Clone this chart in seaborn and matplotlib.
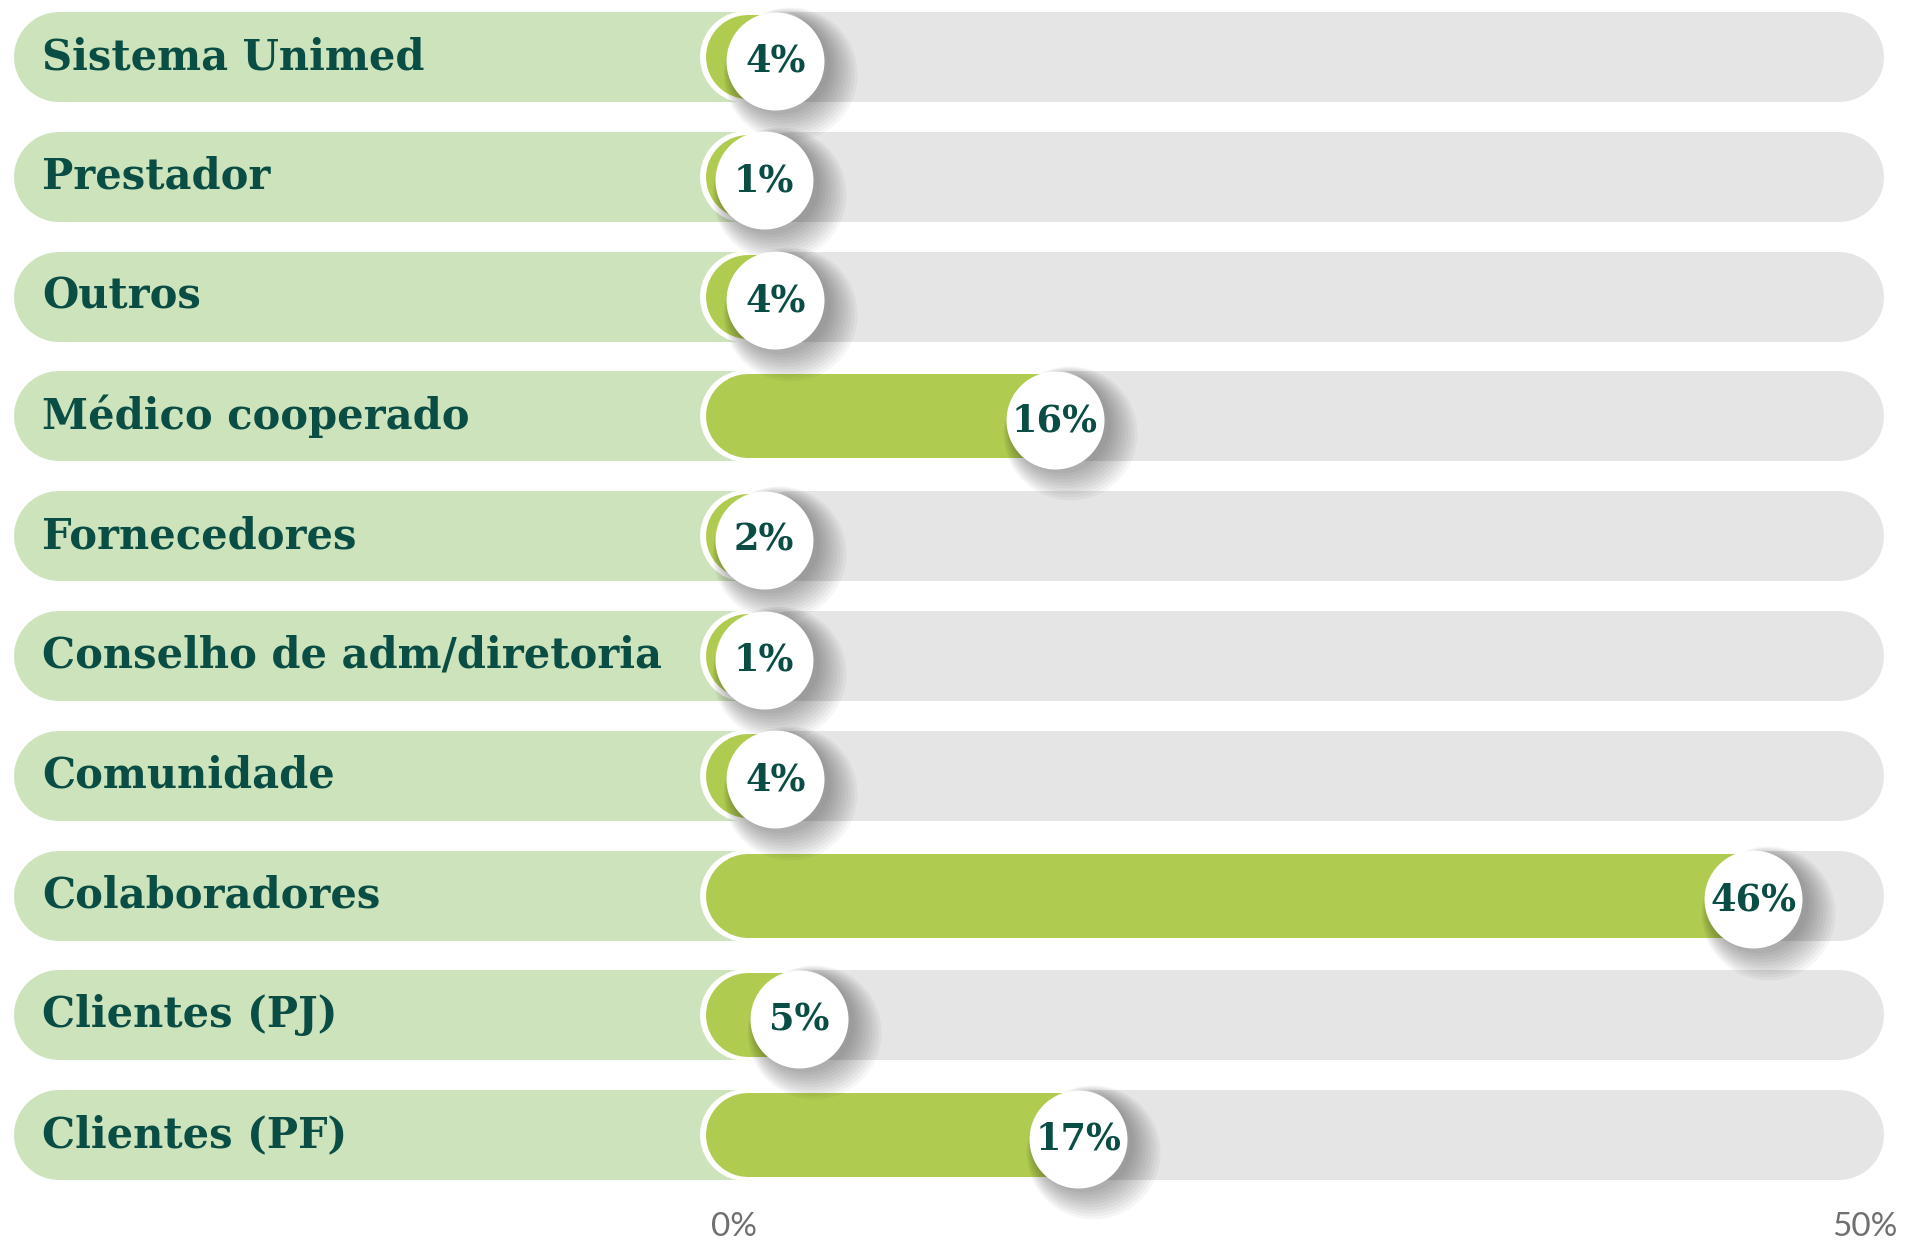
import matplotlib
matplotlib.use("Agg")
import matplotlib.pyplot as plt
import numpy as np
import pandas as pd
import seaborn as sns

# data
categories = ['Sistema Unimed', 'Prestador', 'Outros', 'Médico cooperado', 'Fornecedores',
              'Conselho de adm/diretoria', 'Comunidade', 'Colaboradores', 'Clientes (PJ)', 'Clientes (PF)']
values = [4, 1, 4, 16, 2, 1, 4, 46, 5, 17]
tick_values = [0, 50]
tick_labels = ['0%', '50%']

# colours
LABEL_BG = '#cde3bb'
TRACK = '#e5e5e5'
BAR = '#b0cc50'
TEXT = '#0a4d45'
TICK = '#6f6f6f'

sns.set_theme(style='white')
plt.rcParams['font.family'] = ['DejaVu Serif', 'DejaVu Sans']

# figure geometry (pixels at dpi 100)
W, H, DPI = 1905, 1244, 100
PX_X = 23.28      # pixels per percent
PX_Y = 119.8      # pixels per row
X0_PX = 701       # pixel position of 0%
Y0_PX = 57        # first row centre
PT = 72 / DPI     # points per pixel

fig = plt.figure(figsize=(W / DPI, H / DPI), dpi=DPI)
ax = fig.add_axes([0, 0, 1, 1])
ax.set_xlim(-X0_PX / PX_X, (W - X0_PX) / PX_X)
ax.set_ylim((H - Y0_PX) / PX_Y, -Y0_PX / PX_Y)
ax.axis('off')

bar_h = 90                     # track height in px
r = bar_h / 2 / PX_X           # cap radius in data units
left, right = -29.5, 50.8      # track extent in data units

df = pd.DataFrame({'cat': categories, 'val': values, 'row': np.arange(len(categories))})
df['cx'] = np.maximum(df['val'] - 0.8, 2.7)

for _, d in df.iterrows():
    y = d['row']
    # label background and grey track (round caps give the pill shape)
    ax.plot([left + r, r], [y, y], color=LABEL_BG, lw=bar_h * PT, solid_capstyle='round', zorder=1)
    ax.plot([2 * r, right - r], [y, y], color=TRACK, lw=bar_h * PT, solid_capstyle='round', zorder=1)
    # green bar with white outline
    ax.plot([r, d['cx']], [y, y], color='white', lw=(bar_h + 2) * PT, solid_capstyle='round', zorder=2)
    ax.plot([r + 0.1, d['cx']], [y, y], color=BAR, lw=(bar_h - 6) * PT, solid_capstyle='round', zorder=3)
    # soft shadow under the bubble
    for k in range(10):
        ax.scatter(d['cx'] + (6 + k * 1.0) / PX_X, y + (8 + k) / PX_Y, s=((98 + k * 4) * PT) ** 2,
                   color='black', alpha=0.035, linewidths=0, zorder=4)
    ax.text(left + 1.2, y, d['cat'], ha='left', va='center', fontsize=30,
            fontweight='bold', color=TEXT, zorder=6)

# white bubbles
sns.scatterplot(data=df, x='cx', y=df['row'] + 0.03, s=(98 * PT) ** 2, color='white',
                linewidth=0, ax=ax, zorder=5, legend=False)
for _, d in df.iterrows():
    ax.text(d['cx'], d['row'] + 0.04, f"{d['val']}%", ha='center', va='center', fontsize=26.5,
            fontweight='heavy', color=TEXT, zorder=6)

# axis labels
for tv, tl in zip(tick_values, tick_labels):
    ax.text(tv + (1.4 if tv == 0 else 0), 9.77, tl, ha='center', va='center', fontsize=24,
            color=TICK, family=['Lato', 'DejaVu Sans'], fontweight='normal')

fig.savefig('out.png', dpi=DPI)
